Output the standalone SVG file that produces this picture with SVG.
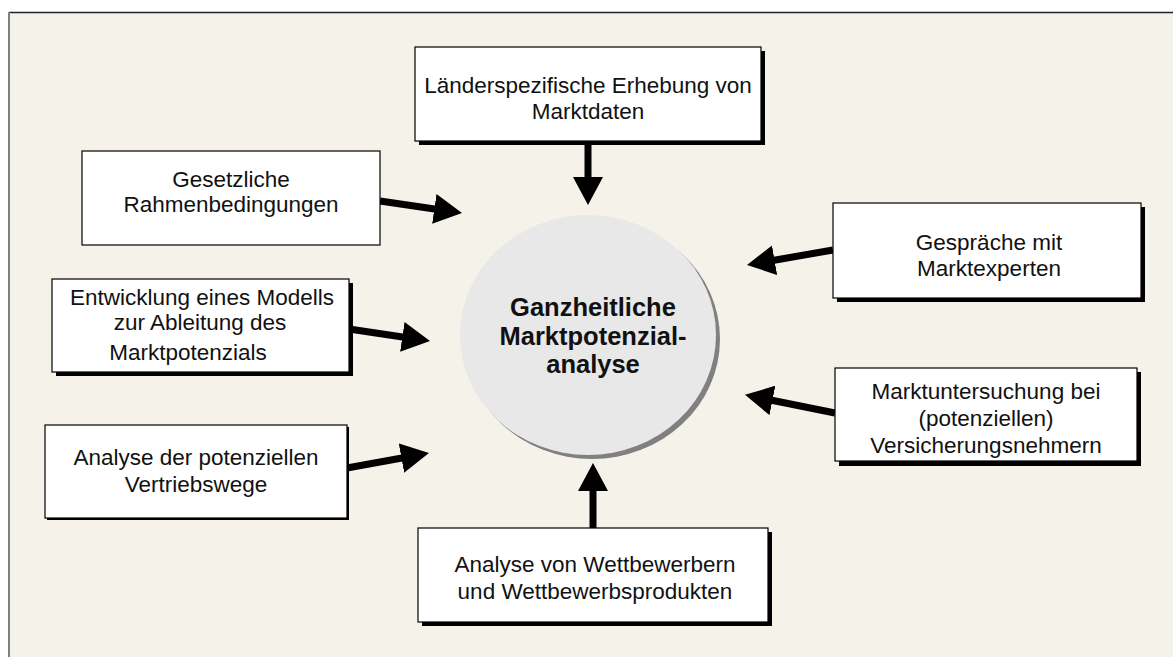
<svg xmlns="http://www.w3.org/2000/svg" width="1173" height="657" viewBox="0 0 1173 657">
<defs>
<style>
.box{fill:#fff;stroke:#000;stroke-width:1.2}
.shd{fill:#000}
.t{font-family:"Liberation Sans",Arial,sans-serif;font-size:22.5px;fill:#111;text-anchor:middle}
.tb{font-family:"Liberation Sans",Arial,sans-serif;font-size:25.5px;font-weight:bold;fill:#111;text-anchor:middle}
.con{stroke:#000;stroke-width:7;fill:none;marker-end:url(#ah)}
</style>
<marker id="ah" markerUnits="userSpaceOnUse" markerWidth="30" markerHeight="30" refX="2" refY="15" orient="auto">
<path d="M0,0 L28,15 L0,30 Z" fill="#000"/>
</marker>
</defs>
<rect x="0" y="0" width="1173" height="657" fill="#fff"/>
<rect x="9" y="12" width="1164" height="645" fill="#F5F2EA"/>
<line x1="9" y1="12.5" x2="1173" y2="12.5" stroke="#222" stroke-width="1.5"/>
<line x1="9" y1="12" x2="9" y2="657" stroke="#808080" stroke-width="2"/>

<g id="connectors">
<line class="con" x1="588" y1="141" x2="588" y2="179"/>
<line class="con" x1="593" y1="528" x2="593" y2="489"/>
<line class="con" x1="380" y1="201" x2="436.3" y2="209.2"/>
<line class="con" x1="349" y1="329" x2="404.3" y2="337.2"/>
<line class="con" x1="347" y1="468" x2="403.4" y2="457.7"/>
<line class="con" x1="833" y1="250" x2="772.6" y2="260.5"/>
<line class="con" x1="835" y1="413" x2="770.5" y2="400"/>
</g>

<g id="center">
<ellipse cx="592" cy="339" rx="128" ry="120" fill="#808080"/>
<ellipse cx="588" cy="335" rx="128" ry="120" fill="#E8E8E8"/>
<text class="tb" x="593" y="316">Ganzheitliche</text>
<text class="tb" x="593" y="345">Marktpotenzial-</text>
<text class="tb" x="593" y="373">analyse</text>
</g>

<g id="n-laender">
<rect class="shd" x="419" y="51" width="346" height="94"/>
<rect class="box" x="415" y="47" width="346" height="94"/>
<text class="t" x="588" y="93">Länderspezifische Erhebung von</text>
<text class="t" x="588" y="119">Marktdaten</text>
</g>

<g id="n-gesetz">
<rect class="box" x="82" y="151" width="298" height="94"/>
<text class="t" x="231" y="187">Gesetzliche</text>
<text class="t" x="231" y="212">Rahmenbedingungen</text>
</g>

<g id="n-modell">
<rect class="shd" x="56" y="283" width="297" height="93"/>
<rect class="box" x="52" y="279" width="297" height="93"/>
<text class="t" x="202" y="305">Entwicklung eines Modells</text>
<text class="t" x="200" y="330">zur Ableitung des</text>
<text class="t" x="188" y="360">Marktpotenzials</text>
</g>

<g id="n-vertrieb">
<rect class="shd" x="47" y="427" width="302" height="93"/>
<rect class="box" x="45" y="425" width="302" height="93"/>
<text class="t" x="196" y="465">Analyse der potenziellen</text>
<text class="t" x="196" y="492">Vertriebswege</text>
</g>

<g id="n-gespraeche">
<rect class="shd" x="837" y="207" width="308" height="95"/>
<rect class="box" x="833" y="203" width="308" height="95"/>
<text class="t" x="989" y="250">Gespräche mit</text>
<text class="t" x="989" y="276">Marktexperten</text>
</g>

<g id="n-marktunt">
<rect class="shd" x="839" y="372" width="302" height="94"/>
<rect class="box" x="835" y="368" width="302" height="93"/>
<text class="t" x="986" y="399">Marktuntersuchung bei</text>
<text class="t" x="986" y="426">(potenziellen)</text>
<text class="t" x="986" y="453">Versicherungsnehmern</text>
</g>

<g id="n-wettbewerb">
<rect class="shd" x="422" y="532" width="350" height="94"/>
<rect class="box" x="418" y="528" width="350" height="94"/>
<text class="t" x="595" y="572">Analyse von Wettbewerbern</text>
<text class="t" x="595" y="599">und Wettbewerbsprodukten</text>
</g>
</svg>
